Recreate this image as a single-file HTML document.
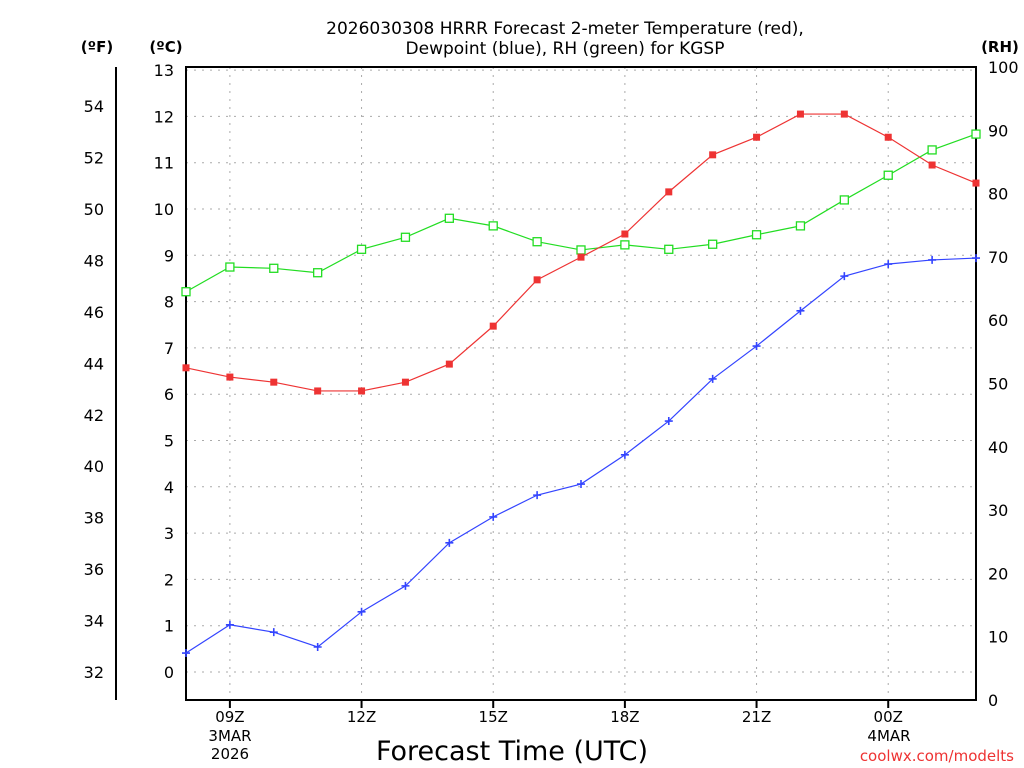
<!DOCTYPE html>
<html><head><meta charset="utf-8"><style>
html,body{margin:0;padding:0;background:#fff;}
svg{display:block;font-family:"DejaVu Sans","Liberation Sans",sans-serif;}
</style></head><body>
<svg id="chart" width="1024" height="768" viewBox="0 0 1024 768" xmlns="http://www.w3.org/2000/svg"></svg>
<script>
const hours = [8,9,10,11,12,13,14,15,16,17,18,19,20,21,22,23,24,25,26];
const tempC = [6.57,6.37,6.26,6.07,6.07,6.26,6.65,7.47,8.47,8.96,9.46,10.37,11.17,11.55,12.05,12.05,11.55,10.95,10.56];
const dewC = [0.41,1.02,0.86,0.54,1.30,1.86,2.79,3.35,3.82,4.06,4.69,5.42,6.33,7.04,7.80,8.55,8.81,8.90,8.94];
const rh = [64.5,68.4,68.2,67.5,71.2,73.1,76.1,74.9,72.4,71.1,71.9,71.2,72.0,73.5,74.9,79.0,82.9,86.9,89.4];
const cTicks = [0,1,2,3,4,5,6,7,8,9,10,11,12,13];
const fTicks = [32,34,36,38,40,42,44,46,48,50,52,54];
const rhTicks = [0,10,20,30,40,50,60,70,80,90,100];
const xTickHours = [9,12,15,18,21,24];
const xTickLabels = ["09Z","12Z","15Z","18Z","21Z","00Z"];

const L=186,R=976,T=67,B=700;
const X = h => L + (h-8)*(R-L)/18;
const YC = c => 672 - c*46.3;
const YF = f => YC((f-32)*5/9);
const YR = r => B - r*(B-T)/100;
const svg = document.getElementById('chart');
const NS='http://www.w3.org/2000/svg';
function el(tag, attrs, text){const e=document.createElementNS(NS,tag);for(const k in attrs)e.setAttribute(k,attrs[k]);if(text!==undefined)e.textContent=text;svg.appendChild(e);return e;}

cTicks.forEach(c=>{const g=el('line',{x1:L,x2:R,y1:YC(c),y2:YC(c),stroke:'#aaa','stroke-dasharray':'2,6'});

});
xTickHours.forEach((h,i)=>{const g=el('line',{x1:X(h),x2:X(h),y1:T,y2:B,stroke:'#aaa','stroke-dasharray':'2,6'});


const t=el('line',{x1:X(h),x2:X(h),y1:B,y2:B+8,stroke:'#000','stroke-width':2});


const lb=el('text',{x:X(h),y:722,'text-anchor':'middle','font-size':15,fill:'#000'},xTickLabels[i]);

});
const fr=el('rect',{x:L,y:T,width:R-L,height:B-T,fill:'none',stroke:'#000','stroke-width':2});


cTicks.forEach(c=>{const t=el('text',{x:174,y:YC(c)+6,'text-anchor':'end','font-size':16},String(c));

});
const fa=el('line',{x1:116,x2:116,y1:67,y2:700,stroke:'#000','stroke-width':2});


fTicks.forEach(f=>{const t=el('text',{x:104,y:YF(f)+6,'text-anchor':'end','font-size':16},String(f));

});
rhTicks.forEach(r=>{const t=el('text',{x:988,y:YR(r)+6,'font-size':16},String(r));

});
function series(vals, yf, color, name, marker){
  const pts=vals.map((v,i)=>X(hours[i])+','+yf(v)).join(' ');
  const pl=el('polyline',{points:pts,fill:'none',stroke:color,'stroke-width':1.2});
  
  
  vals.forEach((v,i)=>{const x=X(hours[i]),y=yf(v);let m;
    if(marker==='fill') m=el('rect',{x:x-3.5,y:y-3.5,width:7,height:7,fill:color});
    else if(marker==='open') m=el('rect',{x:x-4,y:y-4,width:8,height:8,fill:'#fff',stroke:color,'stroke-width':1.3});
    else m=el('path',{d:`M${x-4},${y}H${x+4}M${x},${y-4}V${y+4}`,stroke:color,'stroke-width':1.6});
    
    });
}
series(rh,YR,'#22dd22','rh','open');
series(tempC,YC,'#ee3333','temperature','fill');
series(dewC,YC,'#3344ff','dewpoint','plus');
const texts=[
 [565,34,'middle',17,'#000','2026030308 HRRR Forecast 2-meter Temperature (red),','title-line-1','normal'],
 [565,54,'middle',17,'#000','Dewpoint (blue), RH (green) for KGSP','title-line-2','normal'],
 [97,52,'middle',15,'#000','(ºF)','fahrenheit-unit','bold'],
 [166,52,'middle',15,'#000','(ºC)','celsius-unit','bold'],
 [1000,52,'middle',15,'#000','(RH)','rh-unit','bold'],
 [230,741,'middle',15,'#000','3MAR','date-label-1','normal'],
 [230,759,'middle',15,'#000','2026','year-label','normal'],
 [889,741,'middle',15,'#000','4MAR','date-label-2','normal'],
 [512,760,'middle',27,'#000','Forecast Time (UTC)','x-axis-title','normal'],
 [1014,761,'end',15,'#ee3333','coolwx.com/modelts','credit-text','normal']];
texts.forEach(a=>{const t=el('text',{x:a[0],y:a[1],'text-anchor':a[2],'font-size':a[3],fill:a[4],'font-weight':a[7]},a[5]);

});
</script>
</body></html>
